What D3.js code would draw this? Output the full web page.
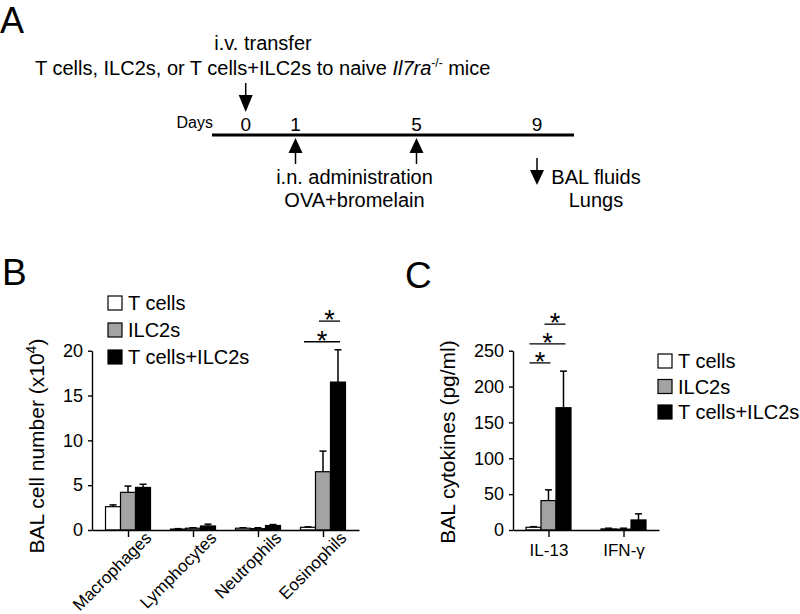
<!DOCTYPE html>
<html>
<head>
<meta charset="utf-8">
<script src="https://cdn.jsdelivr.net/npm/d3@7"></script>
<style>
body { margin: 0; background: #fff; }
svg { font-family: "Liberation Sans", Arial, sans-serif; }
.axis path, .axis line { stroke: #000; stroke-width: 1.4px; }
.axis text { fill: #000; }
</style>
</head>
<body>
<div id="canvas"></div>
<script>
// ---- DATA ----------------------------------------------------------------
var groups = ['T cells', 'ILC2s', 'T cells+ILC2s'];
var groupFill = ['#ffffff', '#a3a3a3', '#000000'];

// panel A: timeline
var timelineDays = [0, 1, 5, 9];
var transferDay = 0;
var challengeDays = [1, 5];
var harvestDay = 9;

// panel B: BAL cells (x10^4), mean and SEM
var cellTypes = ['Macrophages', 'Lymphocytes', 'Neutrophils', 'Eosinophils'];
var cellTcells = [2.6, 0.1, 0.2, 0.3];
var cellIlc2 = [4.2, 0.2, 0.15, 6.5];
var cellBoth = [4.75, 0.45, 0.5, 16.5];
var cellTcellsErr = [0.2, 0.05, 0.05, 0.05];
var cellIlc2Err = [0.7, 0.05, 0.1, 2.3];
var cellBothErr = [0.35, 0.2, 0.1, 3.6];
var cellTicks = [0, 5, 10, 15, 20];
// significance bars: category, from group, to group, height (data units)
var cellSig = [
    {cat: 'Eosinophils', a: 0, b: 2, y: 21.0},
    {cat: 'Eosinophils', a: 1, b: 2, y: 23.3}
];

// panel C: BAL cytokines (pg/ml), mean and SEM
var cytokines = ['IL-13', 'IFN-\u03b3'];
var cytoTcells = [3.8, 1.5];
var cytoIlc2 = [41, 1.2];
var cytoBoth = [170.5, 14];
var cytoTcellsErr = [0.8, 1.0];
var cytoIlc2Err = [15, 1.3];
var cytoBothErr = [51, 8.5];
var cytoTicks = [0, 50, 100, 150, 200, 250];
var cytoSig = [
    {cat: 'IL-13', a: 0, b: 1, y: 233},
    {cat: 'IL-13', a: 0, b: 2, y: 259.5},
    {cat: 'IL-13', a: 1, b: 2, y: 287}
];

// ---- SVG -----------------------------------------------------------------
var svg = d3.select('#canvas')
    .append('svg')
    .attr('width', 800)
    .attr('height', 614);

// ---- PANEL A -------------------------------------------------------------
var scaleDay = d3.scaleLinear()
    .domain(timelineDays)
    .range([245.7, 295.5, 416.5, 537]);

var panelA = svg.append('g');

panelA.append('text').attr('x', 0).attr('y', 33)
    .style('font-size', '36px').text('A');

panelA.append('text').attr('x', 263).attr('y', 50)
    .attr('text-anchor', 'middle').style('font-size', '20px')
    .text('i.v. transfer');

var longLine = panelA.append('text').attr('x', 35).attr('y', 75)
    .style('font-size', '20px');
longLine.append('tspan').text('T cells, ILC2s, or T cells+ILC2s to naive ');
longLine.append('tspan').style('font-style', 'italic').text('Il7ra');
longLine.append('tspan').attr('dy', -8).style('font-size', '12px').text('-/-');
longLine.append('tspan').attr('dy', 8).text(' mice');

// timeline
panelA.append('line')
    .attr('x1', 212).attr('x2', 574)
    .attr('y1', 135).attr('y2', 135)
    .style('stroke', '#000').style('stroke-width', 3);

panelA.append('text').attr('x', 213).attr('y', 128)
    .attr('text-anchor', 'end').style('font-size', '16px').text('Days');

panelA.selectAll('.day-label')
    .data(timelineDays)
    .enter().append('text')
    .attr('class', 'day-label')
    .attr('x', function(d){ return scaleDay(d); })
    .attr('y', 131)
    .attr('text-anchor', 'middle')
    .style('font-size', '19px')
    .text(function(d){ return d; });

function arrow(x, yTail, yTip, head) {
    var dir = yTip > yTail ? 1 : -1;
    panelA.append('line')
        .attr('x1', x).attr('x2', x)
        .attr('y1', yTail).attr('y2', yTip - dir * head)
        .style('stroke', '#000').style('stroke-width', 1.5);
    panelA.append('path')
        .attr('d', 'M' + (x - 7) + ',' + (yTip - dir * head) +
            'L' + (x + 7) + ',' + (yTip - dir * head) +
            'L' + x + ',' + yTip + 'Z')
        .style('fill', '#000');
}

arrow(scaleDay(transferDay), 83, 112, 17);
challengeDays.forEach(function(d){ arrow(scaleDay(d), 164, 138, 15); });
arrow(scaleDay(harvestDay), 158, 185, 15);

panelA.append('text').attr('x', 354.5).attr('y', 184)
    .attr('text-anchor', 'middle').style('font-size', '20px')
    .text('i.n. administration');
panelA.append('text').attr('x', 354.5).attr('y', 207)
    .attr('text-anchor', 'middle').style('font-size', '20px')
    .text('OVA+bromelain');
panelA.append('text').attr('x', 596).attr('y', 184)
    .attr('text-anchor', 'middle').style('font-size', '20px')
    .text('BAL fluids');
panelA.append('text').attr('x', 596).attr('y', 207)
    .attr('text-anchor', 'middle').style('font-size', '20px')
    .text('Lungs');

// ---- BAR PANELS ----------------------------------------------------------
function drawBars(cfg) {
    var g = svg.append('g');

    var scaleX = d3.scalePoint()
        .domain(cfg.cats)
        .range(cfg.xRange)
        .padding(cfg.pad);
    var scaleIn = d3.scaleBand()
        .domain(d3.range(groups.length))
        .range([-22.5, 22.5]);
    var scaleY = d3.scaleLinear()
        .domain([0, cfg.yMax])
        .range([530, 350.7]);

    function barX(cat, i) { return scaleX(cat) + scaleIn(i); }
    function barMid(cat, i) { return barX(cat, i) + scaleIn.bandwidth() / 2; }

    // bars + error bars
    cfg.series.forEach(function(vals, i) {
        var rows = cfg.cats.map(function(c, k) {
            return {cat: c, v: vals[k], e: cfg.errs[i][k]};
        });
        g.selectAll('.err' + i)
            .data(rows).enter().append('line')
            .attr('x1', function(d){ return barMid(d.cat, i); })
            .attr('x2', function(d){ return barMid(d.cat, i); })
            .attr('y1', function(d){ return scaleY(d.v); })
            .attr('y2', function(d){ return scaleY(d.v + d.e); })
            .style('stroke', '#000').style('stroke-width', 1.5);
        g.selectAll('.cap' + i)
            .data(rows).enter().append('line')
            .attr('x1', function(d){ return barMid(d.cat, i) - 3.5; })
            .attr('x2', function(d){ return barMid(d.cat, i) + 3.5; })
            .attr('y1', function(d){ return scaleY(d.v + d.e); })
            .attr('y2', function(d){ return scaleY(d.v + d.e); })
            .style('stroke', '#000').style('stroke-width', 1.5);
        g.selectAll('.bar' + i)
            .data(rows).enter().append('rect')
            .attr('x', function(d){ return barX(d.cat, i); })
            .attr('width', scaleIn.bandwidth())
            .attr('y', function(d){ return scaleY(d.v); })
            .attr('height', function(d){ return scaleY(0) - scaleY(d.v); })
            .style('fill', groupFill[i])
            .style('stroke', '#000').style('stroke-width', 1.2);
    });

    // axes
    var axisY = d3.axisLeft(scaleY)
        .tickValues(cfg.ticks)
        .tickSize(4).tickSizeOuter(0).tickPadding(5);
    var gy = g.append('g').attr('class', 'axis')
        .attr('transform', 'translate(' + cfg.xRange[0] + ',0)')
        .call(axisY);
    gy.selectAll('text').style('font-size', '18px').style('font-family', 'inherit');

    var axisX = d3.axisBottom(scaleX).tickSize(7).tickSizeOuter(0);
    var gx = g.append('g').attr('class', 'axis')
        .attr('transform', 'translate(0,' + scaleY(0) + ')')
        .call(axisX);
    gx.selectAll('text').style('font-size', '17px').style('font-family', 'inherit')
        .attr('dy', 0);
    if (cfg.rotate) {
        gx.selectAll('text')
            .attr('x', 0).attr('y', 0)
            .style('text-anchor', 'end')
            .attr('transform', 'translate(24,9) rotate(-45)');
    } else {
        gx.selectAll('text').attr('y', 26);
    }

    // y label
    var yl = g.append('text')
        .attr('transform', 'translate(' + cfg.yLabelX + ',' + cfg.yLabelY + ') rotate(-90)')
        .attr('text-anchor', 'middle')
        .style('font-size', '21px');
    cfg.yLabel(yl);

    // significance
    g.selectAll('.sig-line')
        .data(cfg.sig).enter().append('line')
        .attr('x1', function(d){ return barMid(d.cat, d.a) - 4; })
        .attr('x2', function(d){ return barMid(d.cat, d.b) + 2; })
        .attr('y1', function(d){ return scaleY(d.y); })
        .attr('y2', function(d){ return scaleY(d.y); })
        .style('stroke', '#000').style('stroke-width', 1.3);
    g.selectAll('.sig-star')
        .data(cfg.sig).enter().append('text')
        .attr('x', function(d){ return (barMid(d.cat, d.a) - 4 + barMid(d.cat, d.b) + 2) / 2; })
        .attr('y', function(d){ return scaleY(d.y) + 8; })
        .attr('text-anchor', 'middle')
        .style('font-size', '27px')
        .text('*');

    // legend
    var leg = g.selectAll('.legend')
        .data(groups).enter().append('g')
        .attr('transform', function(d, i){
            return 'translate(' + cfg.legX + ',' + (cfg.legY + i * cfg.legStep) + ')';
        });
    leg.append('rect')
        .attr('x', 0).attr('y', -7).attr('width', 14).attr('height', 14)
        .style('fill', function(d, i){ return groupFill[i]; })
        .style('stroke', '#000').style('stroke-width', 1.2);
    leg.append('text')
        .attr('x', 20).attr('y', 7)
        .style('font-size', '20px')
        .text(function(d){ return d; });

    // panel letter
    g.append('text').attr('x', cfg.letterX).attr('y', cfg.letterY)
        .style('font-size', '37px').text(cfg.letter);
}

drawBars({
    letter: 'B', letterX: 2, letterY: 285,
    cats: cellTypes,
    xRange: [92, 359], pad: 0.554,
    yMax: 20, ticks: cellTicks,
    series: [cellTcells, cellIlc2, cellBoth],
    errs: [cellTcellsErr, cellIlc2Err, cellBothErr],
    sig: cellSig,
    rotate: true,
    yLabelX: 44, yLabelY: 446,
    yLabel: function(t) {
        t.append('tspan').text('BAL cell number (x10');
        t.append('tspan').attr('dy', -8).style('font-size', '14px').text('4');
        t.append('tspan').attr('dy', 8).text(')');
    },
    legX: 108, legY: 303, legStep: 27
});

drawBars({
    letter: 'C', letterX: 405, letterY: 288,
    cats: cytokines,
    xRange: [513, 659], pad: 0.473,
    yMax: 250, ticks: cytoTicks,
    series: [cytoTcells, cytoIlc2, cytoBoth],
    errs: [cytoTcellsErr, cytoIlc2Err, cytoBothErr],
    sig: cytoSig,
    rotate: false,
    yLabelX: 455, yLabelY: 442,
    yLabel: function(t) { t.text('BAL cytokines (pg/ml)'); },
    legX: 658, legY: 361, legStep: 25.5
});
</script>
</body>
</html>
